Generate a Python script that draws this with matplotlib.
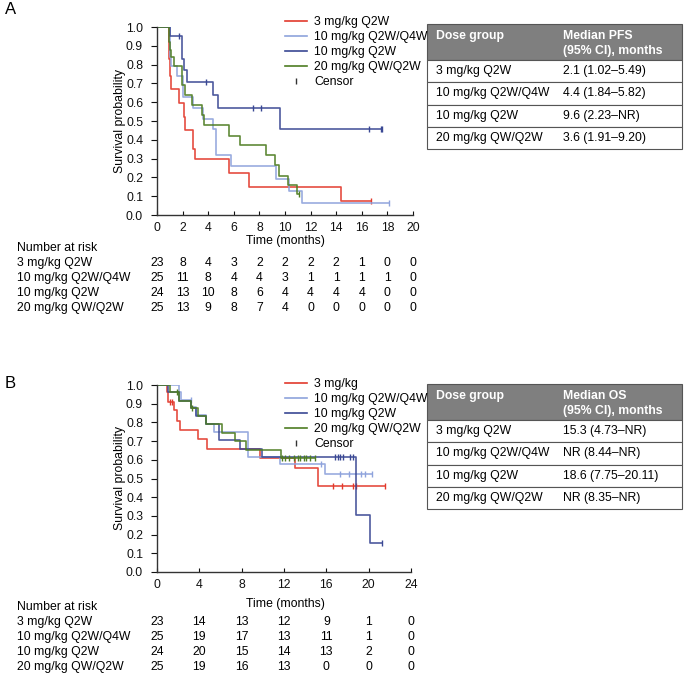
import numpy as np
import matplotlib.pyplot as plt
from matplotlib.lines import Line2D
from matplotlib.patches import Rectangle
from matplotlib.transforms import blended_transform_factory

plt.rcParams['font.family'] = ['Liberation Sans', 'DejaVu Sans']

W, H = 685, 675

groups = ['3 mg/kg Q2W', '10 mg/kg Q2W/Q4W', '10 mg/kg Q2W', '20 mg/kg QW/Q2W']
legend_a = groups
legend_b = ['3 mg/kg', '10 mg/kg Q2W/Q4W', '10 mg/kg Q2W', '20 mg/kg QW/Q2W']
colors = ['#e2392c', '#8ea3dc', '#3a4894', '#4e7d22']

# ---- Panel A: progression-free survival (event times / survival after event)
pfs_t = [
    [0, 0.9, 1.0, 1.1, 1.7, 2.1, 2.2, 2.85, 2.95, 5.6, 7.2, 14.4],
    [0, 1.0, 1.1, 1.6, 2.0, 2.8, 3.6, 4.4, 4.6, 5.8, 9.3, 10.3, 11.3],
    [0, 1.0, 1.95, 2.1, 2.35, 4.4, 4.8, 9.6],
    [0, 0.9, 1.0, 1.1, 1.35, 1.95, 2.2, 2.7, 3.5, 3.7, 5.6, 6.45, 8.5, 9.2, 9.5, 10.2, 10.9],
]
pfs_s = [
    [1.0, 0.83, 0.74, 0.67, 0.595, 0.52, 0.45, 0.35, 0.30, 0.225, 0.15, 0.075],
    [1.0, 0.84, 0.79, 0.74, 0.63, 0.57, 0.51, 0.46, 0.32, 0.26, 0.19, 0.13, 0.065],
    [1.0, 0.95, 0.83, 0.77, 0.71, 0.64, 0.57, 0.455],
    [1.0, 0.92, 0.88, 0.84, 0.79, 0.69, 0.64, 0.585, 0.53, 0.48, 0.42, 0.37, 0.32, 0.265, 0.21, 0.16, 0.11],
]
pfs_end = [16.7, 18.1, 17.6, 11.1]
pfs_cens = [
    [16.7],
    [18.1],
    [1.7, 3.85, 7.5, 8.1, 16.6, 17.5, 17.6],
    [11.1],
]
pfs_risk_times = [0, 2, 4, 6, 8, 10, 12, 14, 16, 18, 20]
pfs_risk = [
    [23, 8, 4, 3, 2, 2, 2, 2, 1, 0, 0],
    [25, 11, 8, 4, 4, 3, 1, 1, 1, 1, 0],
    [24, 13, 10, 8, 6, 4, 4, 4, 4, 0, 0],
    [25, 13, 9, 8, 7, 4, 0, 0, 0, 0, 0],
]
pfs_median = ['2.1 (1.02\u20135.49)', '4.4 (1.84\u20135.82)', '9.6 (2.23\u2013NR)', '3.6 (1.91\u20139.20)']

# ---- Panel B: overall survival
os_t = [
    [0, 0.9, 1.05, 1.65, 1.9, 2.2, 3.9, 4.7, 9.7, 13.0, 15.2],
    [0, 2.05, 2.3, 3.25, 3.7, 4.6, 5.4, 8.6, 11.6, 15.9],
    [0, 1.05, 2.1, 3.25, 3.7, 4.6, 5.9, 7.8, 9.95, 18.8, 20.1],
    [0, 1.2, 2.1, 3.25, 3.9, 4.6, 6.1, 7.35, 8.45, 11.75],
]
os_s = [
    [1.0, 0.96, 0.91, 0.865, 0.81, 0.76, 0.71, 0.66, 0.61, 0.555, 0.46],
    [1.0, 0.96, 0.92, 0.88, 0.84, 0.79, 0.75, 0.615, 0.575, 0.525],
    [1.0, 0.96, 0.915, 0.875, 0.835, 0.79, 0.705, 0.66, 0.615, 0.305, 0.155],
    [1.0, 0.96, 0.915, 0.875, 0.835, 0.79, 0.745, 0.70, 0.655, 0.61],
]
os_end = [21.5, 20.3, 21.3, 14.9]
os_cens = [
    [1.25, 1.45, 16.6, 17.5, 18.5, 18.8, 21.5],
    [3.2, 15.5, 17.3, 18.1, 19.3, 19.65, 20.3],
    [16.8, 17.1, 17.3, 17.6, 18.2, 18.5, 21.3],
    [1.9, 3.3, 11.8, 12.1, 12.5, 12.9, 13.3, 13.5, 13.9, 14.1, 14.5, 14.9],
]
os_risk_times = [0, 4, 8, 12, 16, 20, 24]
os_risk = [
    [23, 14, 13, 12, 9, 1, 0],
    [25, 19, 17, 13, 11, 1, 0],
    [24, 20, 15, 14, 13, 2, 0],
    [25, 19, 16, 13, 0, 0, 0],
]
os_median = ['15.3 (4.73\u2013NR)', 'NR (8.44\u2013NR)', '18.6 (7.75\u201320.11)', 'NR (8.35\u2013NR)']

FS = 8.8


def fig_box(x0, y0, x1, y1):
    """ pixel box (top-left origin) -> figure rect """
    return [x0 / W, 1 - y1 / H, (x1 - x0) / W, (y1 - y0) / H]


def draw_km(ax, times, survs, ends, censors, xmax, xstep):
    for t, s, end, cens, col in zip(times, survs, ends, censors, colors):
        tt = list(t) + [end]
        ss = list(s) + [s[-1]]
        ax.step(tt, ss, where='post', color=col, lw=1.2, alpha=0.9)
        idx = np.searchsorted(np.array(t), np.array(cens), side='right') - 1
        ax.plot(cens, np.array(s)[idx], ls='none', marker='|', ms=5, mew=1.0, color=col)
    ax.set_xlim(0, xmax)
    ax.set_ylim(0, 1.0)
    ax.set_xticks(np.arange(0, xmax + 0.1, xstep))
    ax.set_yticks(np.arange(0, 1.01, 0.1))
    ax.yaxis.set_major_formatter(plt.FormatStrFormatter('%.1f'))
    for side in ['top', 'right']:
        ax.spines[side].set_visible(False)
    for side in ['left', 'bottom']:
        ax.spines[side].set_color('#333333')
        ax.spines[side].set_linewidth(1.0)
    ax.tick_params(labelsize=FS, colors='#111111')
    ax.tick_params(axis='x', direction='in', length=3, pad=5)
    ax.tick_params(axis='y', direction='out', length=4, pad=6)
    ax.set_ylabel('Survival probability', fontsize=FS, labelpad=0)


def draw_legend(ax, labels, y_top_px):
    handles = [Line2D([], [], color=c, lw=1.2) for c in colors]
    handles.append(Line2D([], [], color='#333333', ls='none', marker='|', ms=4))
    fig = ax.figure
    fig.legend(handles, labels + ['Censor'], loc='upper left',
               bbox_to_anchor=(285 / W, 1 - y_top_px / H), frameon=False,
               fontsize=FS, handlelength=1.8, handletextpad=0.6,
               labelspacing=0.25, borderpad=0, borderaxespad=0)


def draw_risk(fig, ax, risk_times, risk, y_title, y_rows):
    trans = blended_transform_factory(ax.transData, fig.transFigure)
    fig.text(17 / W, 1 - y_title / H, 'Number at risk', fontsize=FS, va='center')
    for g, row, yp in zip(groups, risk, y_rows):
        fig.text(17 / W, 1 - yp / H, g, fontsize=FS, va='center')
        for t, n in zip(risk_times, row):
            ax.text(t, 1 - yp / H, str(n), transform=trans, fontsize=FS,
                    ha='center', va='center', clip_on=False)


def draw_table(fig, box, header, values):
    tax = fig.add_axes(fig_box(*box))
    tax.set_xlim(0, 1)
    tax.set_ylim(0, 1)
    tax.axis('off')
    total_h = box[3] - box[1]
    head = 36 / total_h
    row_h = (1 - head) / len(groups)
    split = 136 / (box[2] - box[0])
    left = 9 / (box[2] - box[0])
    tax.add_patch(Rectangle((0, 1 - head), 1, head, facecolor='#7f7f7f',
                            edgecolor='#555555', lw=0.8, clip_on=False))
    y_head = 1 - 6 / total_h
    tax.text(left, y_head, 'Dose group', color='white',
             fontsize=FS, fontweight='bold', va='top')
    tax.text(split, y_head, header, color='white', fontsize=FS,
             fontweight='bold', va='top', linespacing=1.3)
    for i, (g, v) in enumerate(zip(groups, values)):
        y0 = 1 - head - (i + 1) * row_h
        tax.add_patch(Rectangle((0, y0), 1, row_h, facecolor='white',
                                edgecolor='#555555', lw=0.8, clip_on=False))
        tax.text(left, y0 + row_h / 2, g, fontsize=FS, va='center')
        tax.text(split, y0 + row_h / 2, v, fontsize=FS, va='center')


def main():
    fig = plt.figure(figsize=(W / 100, H / 100), dpi=100)

    # Panel A
    ax_a = fig.add_axes(fig_box(157, 27, 413, 215))
    draw_km(ax_a, pfs_t, pfs_s, pfs_end, pfs_cens, 20, 2)
    draw_legend(ax_a, legend_a, 16)
    fig.text(285 / W, 1 - 241 / H, 'Time (months)', fontsize=FS, ha='center', va='center')
    draw_risk(fig, ax_a, pfs_risk_times, pfs_risk, 248, [263, 278, 293, 308])
    draw_table(fig, (427, 24, 682, 149), 'Median PFS\n(95% CI), months', pfs_median)
    fig.text(5 / W, 1 - 10 / H, 'A', fontsize=12, va='center')

    # Panel B
    ax_b = fig.add_axes(fig_box(157, 385, 411, 572))
    draw_km(ax_b, os_t, os_s, os_end, os_cens, 24, 4)
    draw_legend(ax_b, legend_b, 378)
    fig.text(285 / W, 1 - 604 / H, 'Time (months)', fontsize=FS, ha='center', va='center')
    draw_risk(fig, ax_b, os_risk_times, os_risk, 607, [622, 637, 652, 667])
    draw_table(fig, (427, 384, 682, 509), 'Median OS\n(95% CI), months', os_median)
    fig.text(5 / W, 1 - 384 / H, 'B', fontsize=12, va='center')

    fig.savefig('out.png', dpi=100)


if __name__ == "__main__":
    main()
